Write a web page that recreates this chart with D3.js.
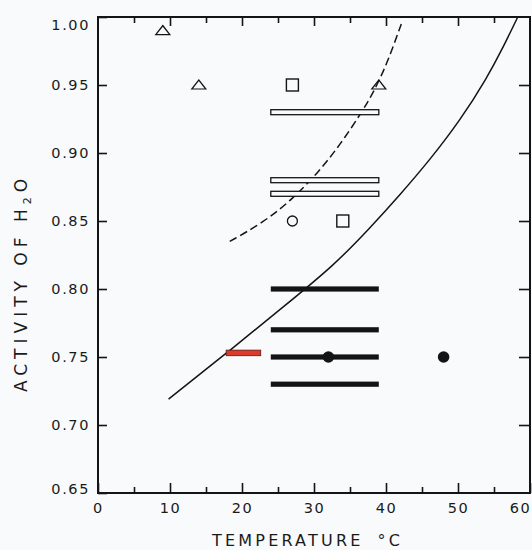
<!DOCTYPE html>
<html>
<head>
<meta charset="utf-8">
<script src="https://cdn.jsdelivr.net/npm/d3@7"></script>
<style>
  html, body { margin: 0; padding: 0; background: #f8fafb; }
  svg { display: block; }
  text { font-family: "DejaVu Sans", sans-serif; fill: #1a1a1a; }
</style>
</head>
<body>
<svg id="chart" width="532" height="550"></svg>
<script>
// ---- data ----
const xTickValues = [0, 10, 20, 30, 40, 50, 60];
const xMinorTicks = [5, 15, 25, 35, 45, 55];
const yTickValues = [0.65, 0.70, 0.75, 0.80, 0.85, 0.90, 0.95, 1.00];
const yTickLabels = ["0.65", "0.70", "0.75", "0.80", "0.85", "0.90", "0.95", "1.00"];
const rightTickValues = [0.70, 0.75, 0.80, 0.85, 0.90, 0.95];

// solid boundary curve (temperature, activity)
const solidT = [9.8, 17.9, 26, 32.7, 37.8, 41.9, 46.1, 50.3, 54.0, 56.3, 58.3];
const solidA = [0.719, 0.753, 0.788, 0.817, 0.845, 0.869, 0.895, 0.924, 0.955, 0.978, 1.0];

// dashed boundary curve
const dashedT = [18.3, 23, 27, 30.8, 33.6, 36.4, 38.2, 40.1, 42.2];
const dashedA = [0.835, 0.849, 0.866, 0.887, 0.906, 0.928, 0.944, 0.965, 0.996];

// open (outlined) horizontal bars
const openBarA = [0.93, 0.88, 0.87];
const openBarT0 = [24, 24, 24];
const openBarT1 = [39, 39, 39];

// filled horizontal bars
const filledBarA = [0.80, 0.77, 0.75, 0.73];
const filledBarT0 = [24, 24, 24, 24];
const filledBarT1 = [39, 39, 39, 39];

// red bar
const redBarT0 = [17.8];
const redBarT1 = [22.6];
const redBarA = [0.753];

// markers
const triangleT = [9, 14, 39];
const triangleA = [0.99, 0.95, 0.95];
const squareT = [27, 34];
const squareA = [0.95, 0.85];
const openCircleT = [27];
const openCircleA = [0.85];
const filledCircleT = [32, 48];
const filledCircleA = [0.75, 0.75];

const xTitle = "TEMPERATURE";
const xUnit = "°C";

// ---- drawing ----
const svg = d3.select("#chart");
const x = d3.scaleLinear().domain([0, 60]).range([98, 530]);
const y = d3.scaleLinear().domain([0.65, 1.0]).range([493, 17]);
const ink = "#141414";
const bg = "#f8fafb";

// curves
const line = d3.line().x(d => x(d[0])).y(d => y(d[1])).curve(d3.curveBasis);
svg.append("path")
  .attr("d", line(d3.zip(solidT, solidA)))
  .attr("fill", "none").attr("stroke", ink).attr("stroke-width", 1.5);
svg.append("path")
  .attr("d", line(d3.zip(dashedT, dashedA)))
  .attr("fill", "none").attr("stroke", ink).attr("stroke-width", 1.5)
  .attr("stroke-dasharray", "8,4");

// open bars
svg.append("g").selectAll("rect")
  .data(d3.range(openBarA.length))
  .join("rect")
  .attr("x", i => x(openBarT0[i]))
  .attr("width", i => x(openBarT1[i]) - x(openBarT0[i]))
  .attr("y", i => y(openBarA[i]) - 2.5)
  .attr("height", 5)
  .attr("fill", bg).attr("stroke", ink).attr("stroke-width", 1.3);

// filled bars
svg.append("g").selectAll("rect")
  .data(d3.range(filledBarA.length))
  .join("rect")
  .attr("x", i => x(filledBarT0[i]))
  .attr("width", i => x(filledBarT1[i]) - x(filledBarT0[i]))
  .attr("y", i => y(filledBarA[i]) - 2.6)
  .attr("height", 5.2)
  .attr("fill", ink);

// red bar
svg.append("g").selectAll("rect")
  .data(d3.range(redBarA.length))
  .join("rect")
  .attr("x", i => x(redBarT0[i]))
  .attr("width", i => x(redBarT1[i]) - x(redBarT0[i]))
  .attr("y", i => y(redBarA[i]) - 2.8)
  .attr("height", 5.6)
  .attr("fill", "#dc3b2c").attr("stroke", "#5a1a14").attr("stroke-width", 0.8);

// triangles
const triSym = d3.symbol().type(d3.symbolTriangle).size(64);
svg.append("g").selectAll("path")
  .data(d3.range(triangleT.length))
  .join("path")
  .attr("d", triSym)
  .attr("transform", i => `translate(${x(triangleT[i])},${y(triangleA[i]) + 1}) scale(1.15,0.85)`)
  .attr("fill", "none").attr("stroke", ink).attr("stroke-width", 1.3);

// squares
svg.append("g").selectAll("rect")
  .data(d3.range(squareT.length))
  .join("rect")
  .attr("x", i => x(squareT[i]) - 6)
  .attr("y", i => y(squareA[i]) - 6)
  .attr("width", 12).attr("height", 12)
  .attr("fill", "none").attr("stroke", ink).attr("stroke-width", 1.4);

// open circles
svg.append("g").selectAll("circle")
  .data(d3.range(openCircleT.length))
  .join("circle")
  .attr("cx", i => x(openCircleT[i]))
  .attr("cy", i => y(openCircleA[i]))
  .attr("r", 5)
  .attr("fill", "none").attr("stroke", ink).attr("stroke-width", 1.3);

// filled circles
svg.append("g").selectAll("circle")
  .data(d3.range(filledCircleT.length))
  .join("circle")
  .attr("cx", i => x(filledCircleT[i]))
  .attr("cy", i => y(filledCircleA[i]))
  .attr("r", 5.8)
  .attr("fill", ink);

// axes
function styleAxis(g) {
  g.select(".domain").remove();
  g.selectAll(".tick line").attr("stroke", ink).attr("stroke-width", 1.6);
  g.selectAll(".tick text")
    .style("font-family", "'DejaVu Sans', sans-serif")
    .style("font-size", "14.5px")
    .style("letter-spacing", "1.6px")
    .attr("fill", ink);
}

// bottom major + labels
svg.append("g")
  .attr("transform", `translate(0,${y(0.65)})`)
  .call(d3.axisBottom(x).tickValues(xTickValues).tickFormat(d3.format("d")).tickSize(-10).tickSizeOuter(0).tickPadding(10))
  .call(styleAxis)
  .call(g => g.selectAll(".tick text").attr("dy", "0.72em"))
  .call(g => g.selectAll(".tick").filter(d => d === 60).select("text").attr("dx", "-10"));
// bottom minor
svg.append("g")
  .attr("transform", `translate(0,${y(0.65)})`)
  .call(d3.axisBottom(x).tickValues(xMinorTicks).tickFormat("").tickSize(-6).tickSizeOuter(0))
  .call(styleAxis);
// top major + minor
svg.append("g")
  .attr("transform", `translate(0,${y(1.0)})`)
  .call(d3.axisTop(x).tickValues(xTickValues.slice(1, -1)).tickFormat("").tickSize(-9).tickSizeOuter(0))
  .call(styleAxis);
svg.append("g")
  .attr("transform", `translate(0,${y(1.0)})`)
  .call(d3.axisTop(x).tickValues(xMinorTicks).tickFormat("").tickSize(-6).tickSizeOuter(0))
  .call(styleAxis);

// left axis
svg.append("g")
  .attr("transform", `translate(${x(0)},0)`)
  .call(d3.axisLeft(y).tickValues(yTickValues).tickFormat((d, i) => yTickLabels[i]).tickSize(-9).tickSizeOuter(0).tickPadding(8))
  .call(styleAxis)
  .call(g => g.selectAll(".tick").filter(d => d === 1.0).select("text").attr("dy", "0.85em"))
  .call(g => g.selectAll(".tick").filter(d => d === 0.65).select("text").attr("dy", "0.0em"));

// right axis
svg.append("g")
  .attr("transform", `translate(${x(60)},0)`)
  .call(d3.axisRight(y).tickValues(rightTickValues).tickFormat("").tickSize(-11).tickSizeOuter(0))
  .call(styleAxis);

// frame
svg.append("rect")
  .attr("x", x(0)).attr("y", y(1.0))
  .attr("width", x(60) - x(0)).attr("height", y(0.65) - y(1.0))
  .attr("fill", "none").attr("stroke", ink).attr("stroke-width", 2);

// axis titles
const xt = svg.append("text")
  .attr("x", 212).attr("y", 546)
  .style("font-size", "16px").style("letter-spacing", "3.2px")
  .attr("fill", ink);
xt.append("tspan").text(xTitle);
xt.append("tspan").attr("dx", 14).text(xUnit);

const yt = svg.append("text")
  .attr("transform", "translate(27,283) rotate(-90)")
  .attr("text-anchor", "middle")
  .style("font-size", "17px").style("letter-spacing", "5px")
  .attr("fill", ink);
yt.append("tspan").text("ACTIVITY OF H");
yt.append("tspan").attr("dy", 4).style("font-size", "11px").text("2");
yt.append("tspan").attr("dy", -4).text("O");
</script>
</body>
</html>
